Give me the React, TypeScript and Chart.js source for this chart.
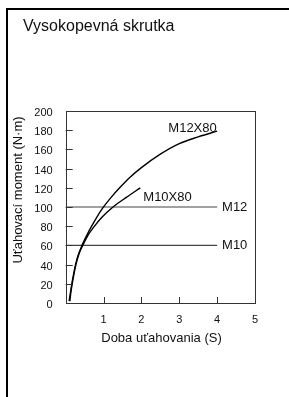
import React, { useEffect, useRef } from "react";
import { Chart, registerables } from "chart.js";

Chart.register(...registerables);

const chartTitle = "Vysokopevná skrutka";
const yTitle = "Uťahovací moment (N·m)";
const xTitle = "Doba uťahovania (S)";

const seriesNames = ["M12X80", "M10X80", "M12", "M10"];

const m12x80X = [0.09, 0.13, 0.18, 0.26, 0.34, 0.43, 0.55, 0.67, 0.8, 0.98, 1.2, 1.45, 1.7, 2.0, 2.5, 3.0, 3.5, 4.0];
const m12x80Y = [2, 12, 24, 40, 51, 60, 70, 79, 88, 99, 110, 121, 131, 141, 155, 166, 173, 179];

const m10x80X = [0.11, 0.14, 0.19, 0.27, 0.35, 0.45, 0.58, 0.74, 0.95, 1.25, 1.6, 1.97];
const m10x80Y = [2, 12, 24, 40, 51, 60, 70, 79, 89, 100, 110, 120];

const m12X = [0, 4];
const m12Y = [100, 100];
const m10X = [0, 4];
const m10Y = [60, 60];

const xTicks = [0, 1, 2, 3, 4, 5];
const yTicks = [0, 20, 40, 60, 80, 100, 120, 140, 160, 180, 200];

// label anchors in data coordinates
const labelX = [3.35, 2.05, 4.13, 4.13];
const labelY = [182, 110, 100, 60];
const labelAlign = ["center", "left", "left", "left"];

const FONT = "'Liberation Sans', Arial, sans-serif";

const zip = (xs: number[], ys: number[]) => xs.map((x, i) => ({ x, y: ys[i] }));

const decorPlugin = {
  id: "decor",
  afterDraw(chart: any) {
    const { ctx, chartArea: a, scales } = chart;
    const xs = scales.x;
    const ys = scales.y;
    ctx.save();
    ctx.strokeStyle = "#333";
    ctx.lineWidth = 1;
    ctx.strokeRect(Math.round(a.left) + 0.5, Math.round(a.top) + 0.5, Math.round(a.right - a.left), Math.round(a.bottom - a.top));
    ctx.beginPath();
    yTicks.forEach((v) => {
      if (v === 0 || v === 200) return;
      const py = Math.round(ys.getPixelForValue(v)) + 0.5;
      ctx.moveTo(a.left, py);
      ctx.lineTo(a.left + 7, py);
    });
    xTicks.forEach((v) => {
      if (v === 0 || v === 5) return;
      const px = Math.round(xs.getPixelForValue(v)) + 0.5;
      ctx.moveTo(px, a.bottom);
      ctx.lineTo(px, a.bottom - 6);
    });
    ctx.stroke();

    ctx.fillStyle = "#111";
    ctx.font = `16px ${FONT}`;
    ctx.textAlign = "left";
    ctx.textBaseline = "alphabetic";
    ctx.fillText(chartTitle, 15, 21);
    ctx.font = `13px ${FONT}`;
    ctx.textAlign = "center";
    ctx.textBaseline = "middle";
    ctx.fillText(xTitle, 153.5, 328);
    ctx.save();
    ctx.translate(10.5, 180);
    ctx.rotate(-Math.PI / 2);
    ctx.fillText(yTitle, 0, 0);
    ctx.restore();
    ctx.font = `13px ${FONT}`;
    seriesNames.forEach((n, i) => {
      ctx.textAlign = labelAlign[i] as CanvasTextAlign;
      ctx.textBaseline = "middle";
      ctx.fillText(n, xs.getPixelForValue(labelX[i]), ys.getPixelForValue(labelY[i]));
    });
    ctx.restore();
  },
};

export default function App() {
  const ref = useRef<HTMLCanvasElement>(null);
  useEffect(() => {
    if (!ref.current) return;
    const chart = new Chart(ref.current, {
      type: "line",
      data: {
        datasets: [
          { label: seriesNames[0], data: zip(m12x80X, m12x80Y), borderColor: "#000", borderWidth: 1.4, pointRadius: 0, cubicInterpolationMode: "monotone" },
          { label: seriesNames[1], data: zip(m10x80X, m10x80Y), borderColor: "#000", borderWidth: 1.4, pointRadius: 0, cubicInterpolationMode: "monotone" },
          { label: seriesNames[2], data: zip(m12X, m12Y), borderColor: "#444", borderWidth: 1.2, pointRadius: 0 },
          { label: seriesNames[3], data: zip(m10X, m10Y), borderColor: "#444", borderWidth: 1.2, pointRadius: 0 },
        ],
      },
      options: {
        animation: false,
        responsive: false,
        maintainAspectRatio: false,
        layout: { padding: { top: 101, right: 34, left: 0, bottom: 0 } },
        plugins: { legend: { display: false }, tooltip: { enabled: false }, title: { display: false } },
        scales: {
          x: {
            type: "linear",
            min: 0,
            max: 5,
            grid: { display: false },
            border: { display: false },
            afterBuildTicks: (s: any) => { s.ticks = xTicks.map((v) => ({ value: v })); },
            afterFit: (s: any) => { s.height = 94; },
            ticks: {
              color: "#111",
              font: { family: FONT, size: 11 },
              padding: 2,
              maxRotation: 0,
              callback: (v: any) => (v === 0 ? "" : String(v)),
            },
          },
          y: {
            type: "linear",
            min: 0,
            max: 200,
            grid: { display: false },
            border: { display: false },
            afterBuildTicks: (s: any) => { s.ticks = yTicks.map((v) => ({ value: v })); },
            afterFit: (s: any) => { s.width = 57.7; },
            ticks: {
              color: "#111",
              font: { family: FONT, size: 11 },
              padding: 5,
              labelOffset: 2,
            },
          },
        },
      },
      plugins: [decorPlugin],
    } as any);
    return () => chart.destroy();
  }, []);
  return (
    <div
      style={{
        position: "fixed",
        left: 6,
        top: 8,
        width: 281,
        height: 387,
        borderTop: "2px solid #000",
        borderLeft: "2px solid #000",
        background: "#fff",
      }}
    >
      <canvas ref={ref} width={281} height={387} style={{ display: "block", width: 281, height: 387 }} />
    </div>
  );
}
